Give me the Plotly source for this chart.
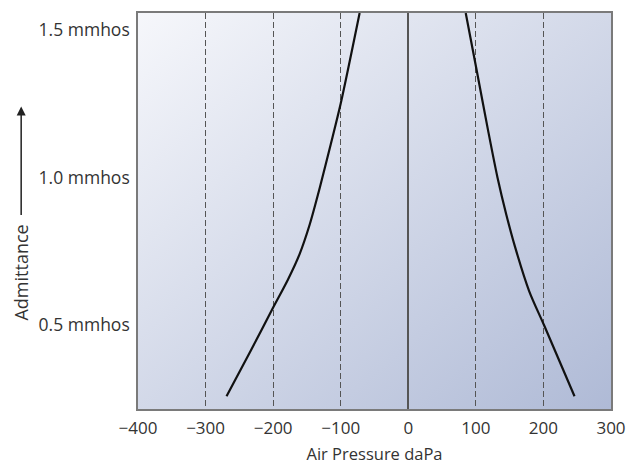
import base64
import plotly.graph_objects as go

# ---- data ----
left_pressure = [-269, -233, -200, -178, -161, -146, -131, -115, -100, -72]
left_admittance = [0.26, 0.415, 0.56, 0.655, 0.74, 0.84, 0.965, 1.11, 1.25, 1.556]
right_pressure = [85, 101, 118, 132, 145, 158, 179, 201, 246]
right_admittance = [1.556, 1.365, 1.16, 1.0, 0.875, 0.765, 0.615, 0.50, 0.26]

x_ticks = [-400, -300, -200, -100, 0, 100, 200, 300]
y_ticks = [0.5, 1.0, 1.5]
y_ticktext = ["0.5 mmhos", "1.0 mmhos", "1.5 mmhos"]

FONT = "Open Sans"
TXT = "#333333"

# gradient background for the plotting area
svg = ('<svg xmlns="http://www.w3.org/2000/svg" width="100" height="100" preserveAspectRatio="none">'
       '<defs><linearGradient id="g" x1="0" y1="0" x2="1" y2="1">'
       '<stop offset="0" stop-color="#f6f7fb"/><stop offset="1" stop-color="#afbad6"/>'
       '</linearGradient></defs><rect width="100" height="100" fill="url(#g)"/></svg>')
bg_uri = "data:image/svg+xml;base64," + base64.b64encode(svg.encode()).decode()

fig = go.Figure()
for xs, ys in [(left_pressure, left_admittance), (right_pressure, right_admittance)]:
    fig.add_trace(go.Scatter(x=xs, y=ys, mode="lines",
                             line=dict(color="#111111", width=2.2, shape="spline", smoothing=0.8),
                             showlegend=False, hoverinfo="skip"))

fig.update_layout(
    width=637, height=472,
    margin=dict(l=138, r=17, t=11, b=54),
    paper_bgcolor="white",
    plot_bgcolor="rgba(0,0,0,0)",
    font=dict(family=FONT, size=16, color=TXT),
    images=[dict(source=bg_uri, xref="paper", yref="paper", x=0, y=1, sizex=1, sizey=1,
                 sizing="stretch", layer="below")],
    xaxis=dict(range=[-400, 300], tickvals=x_ticks, showgrid=True, griddash="6px,3px",
               gridcolor="#555555", gridwidth=1.2, zeroline=True, zerolinecolor="#555555",
               zerolinewidth=1.5, showline=True, mirror=True, linecolor="#7a7a7a", linewidth=1.5,
               ticks="outside", ticklen=3, tickcolor="rgba(0,0,0,0)",
               tickfont=dict(family=FONT, size=17, color=TXT),
               title=dict(text="Air Pressure daPa", font=dict(family=FONT, size=16.5, color=TXT), standoff=10)),
    yaxis=dict(range=[0.217, 1.556], tickvals=y_ticks, ticktext=y_ticktext, showgrid=False,
               zeroline=False, showline=True, mirror=True, linecolor="#7a7a7a", linewidth=1.5,
               ticks="outside", ticklen=3, tickcolor="rgba(0,0,0,0)",
               tickfont=dict(family=FONT, size=17.5, color=TXT)),
    annotations=[
        dict(text="Admittance", xref="paper", yref="paper", x=-0.247, y=0.345, textangle=-90,
             xanchor="center", yanchor="middle",
             showarrow=False, font=dict(family=FONT, size=18, color=TXT)),
        dict(text="", xref="paper", yref="paper", x=-0.247, y=0.764, ax=0, ay=110,
             showarrow=True, arrowhead=2, arrowsize=1.2, arrowwidth=1.5, arrowcolor="#222222"),
    ],
)

fig.write_html("out.html")
